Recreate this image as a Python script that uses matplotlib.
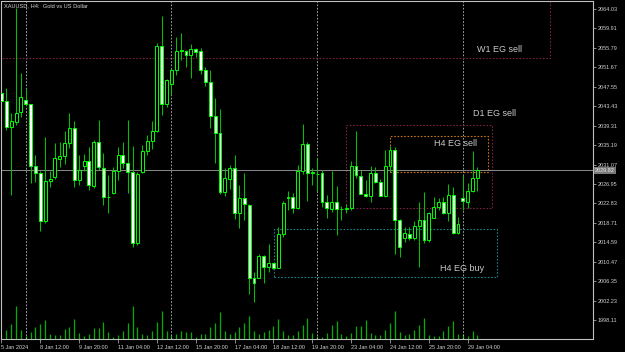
import numpy as np
import matplotlib.pyplot as plt
from matplotlib.patches import Rectangle
from matplotlib import transforms

plt.rcParams['font.family'] = ['Liberation Sans', 'DejaVu Sans']

# XAUUSD H4 bars, 5 Jan 2024 04:00 .. 29 Jan 2024 12:00
opens = [2046.2, 2044.6, 2039.0, 2040.0, 2042.1, 2044.8, 2043.9, 2030.8, 2029.2, 2019.0,
         2027.6, 2028.5, 2032.2, 2032.8, 2035.6, 2038.8, 2027.8, 2030.8, 2031.8, 2026.6,
         2035.8, 2030.4, 2024.1, 2025.1, 2029.8, 2033.0, 2031.4, 2029.4, 2014.4, 2029.4,
         2034.0, 2036.1, 2038.2, 2056.2, 2044.0, 2048.1, 2051.1, 2055.2, 2055.2, 2054.3,
         2055.5, 2055.2, 2051.0, 2048.6, 2041.3, 2037.7, 2025.3, 2027.9, 2030.3, 2020.7,
         2023.9, 2022.5, 2007.1, 2007.1, 2011.7, 2009.3, 2010.1, 2009.2, 2016.3, 2024.0,
         2024.1, 2021.8, 2029.8, 2035.4, 2029.3, 2029.1, 2029.3, 2023.2, 2021.6, 2023.2,
         2021.6, 2021.7, 2021.9, 2030.8, 2028.7, 2024.9, 2024.4, 2029.2, 2027.3, 2024.5,
         2030.7, 2034.1, 2019.3, 2015.6, 2016.3, 2015.6, 2018.0, 2019.4, 2015.1, 2019.8,
         2022.0, 2023.2, 2020.8, 2024.7, 2016.6, 2023.9, 2023.2, 2025.5, 2028.3]
highs = [2046.8, 2047.2, 2042.0, 2064.2, 2050.4, 2047.0, 2043.9, 2033.1, 2029.6, 2037.0,
         2029.8, 2035.7, 2035.9, 2038.2, 2041.9, 2040.2, 2033.1, 2033.3, 2034.8, 2036.3,
         2040.4, 2033.6, 2028.8, 2030.6, 2034.7, 2035.8, 2040.6, 2035.0, 2029.4, 2035.2,
         2037.3, 2040.3, 2056.9, 2062.5, 2049.3, 2051.5, 2058.2, 2058.9, 2055.3, 2056.6,
         2055.8, 2055.7, 2051.8, 2051.1, 2045.1, 2042.8, 2030.3, 2031.0, 2033.1, 2026.7,
         2029.2, 2022.6, 2008.3, 2012.2, 2011.9, 2014.2, 2010.3, 2017.8, 2023.3, 2025.5,
         2025.1, 2031.0, 2039.6, 2035.8, 2030.3, 2032.4, 2029.9, 2024.6, 2029.6, 2026.6,
         2022.2, 2022.8, 2031.9, 2038.2, 2029.9, 2027.8, 2030.8, 2030.6, 2028.1, 2034.2,
         2035.0, 2034.8, 2019.5, 2017.9, 2017.8, 2019.0, 2023.2, 2025.3, 2021.1, 2024.1,
         2023.9, 2024.1, 2026.9, 2026.2, 2020.0, 2028.8, 2027.1, 2034.0, 2030.5]
lows = [2044.0, 2038.4, 2024.6, 2039.4, 2041.2, 2043.7, 2027.1, 2027.4, 2017.0, 2018.6,
        2026.2, 2028.1, 2030.5, 2031.2, 2034.5, 2026.2, 2026.7, 2029.6, 2025.7, 2026.0,
        2029.9, 2022.5, 2020.7, 2024.9, 2027.8, 2030.3, 2025.1, 2013.5, 2014.0, 2029.2,
        2033.1, 2034.4, 2038.0, 2041.6, 2043.2, 2046.0, 2050.0, 2053.2, 2051.7, 2049.5,
        2053.9, 2050.3, 2047.7, 2038.8, 2031.4, 2024.9, 2024.3, 2025.8, 2019.5, 2017.7,
        2019.3, 2003.6, 2002.0, 2007.0, 2005.9, 2008.3, 2008.9, 2009.1, 2015.8, 2021.4,
        2020.7, 2021.6, 2029.0, 2023.4, 2026.7, 2025.5, 2022.0, 2019.7, 2021.1, 2016.1,
        2019.3, 2020.7, 2021.4, 2028.3, 2024.8, 2024.2, 2023.2, 2027.1, 2024.3, 2024.1,
        2029.6, 2012.1, 2011.4, 2014.7, 2015.1, 2015.1, 2009.4, 2014.5, 2014.7, 2019.7,
        2021.4, 2020.5, 2019.0, 2016.3, 2016.3, 2021.5, 2021.8, 2025.3, 2025.5]
closes = [2044.5, 2039.0, 2040.3, 2042.0, 2045.4, 2043.9, 2030.8, 2029.2, 2019.0, 2027.6,
          2028.1, 2032.4, 2032.9, 2035.6, 2038.8, 2027.8, 2029.9, 2031.8, 2026.7, 2035.8,
          2030.5, 2024.1, 2024.2, 2029.8, 2033.1, 2031.3, 2029.4, 2014.4, 2029.0, 2034.0,
          2036.1, 2038.2, 2056.2, 2044.0, 2049.0, 2051.1, 2055.2, 2055.3, 2054.3, 2055.5,
          2055.0, 2051.0, 2048.6, 2041.3, 2037.7, 2025.3, 2028.3, 2030.3, 2020.7, 2023.9,
          2022.6, 2007.1, 2006.0, 2011.7, 2009.3, 2010.1, 2009.2, 2016.3, 2023.0, 2024.1,
          2021.8, 2029.8, 2035.4, 2029.2, 2029.4, 2029.0, 2023.2, 2021.8, 2023.2, 2021.6,
          2021.7, 2021.9, 2030.8, 2028.8, 2024.9, 2024.4, 2029.2, 2027.4, 2024.5, 2030.7,
          2034.1, 2019.3, 2013.6, 2016.5, 2015.6, 2018.0, 2019.4, 2015.1, 2020.7, 2022.0,
          2023.2, 2020.8, 2024.7, 2016.6, 2018.5, 2023.4, 2025.5, 2028.3, 2029.82]
volumes = [4000, 9300, 15300, 32700, 9300, 3000, 6700, 12000, 15000, 19300,
           5300, 3700, 4300, 10300, 12300, 20300, 6300, 3300, 4700, 11300,
           11300, 17300, 7300, 2300, 4300, 8300, 16000, 33300, 11700, 4700,
           4300, 8300, 17300, 28300, 8000, 4000, 5300, 8300, 7000, 7000,
           2000, 4800, 5500, 12000, 16000, 27000, 8000, 5000, 7300, 12300,
           16000, 23300, 8000, 5000, 6700, 9000, 13300, 20300, 7700, 3700,
           4300, 8300, 14300, 20700, 6000, 3000, 2000, 6000, 13700, 18300,
           5300, 2700, 6300, 13300, 13300, 19000, 6000, 3700, 4000, 9300,
           16000, 28000, 7000, 4000, 4800, 9300, 14300, 21000, 4300, 3300,
           3000, 7700, 13000, 18300, 5000, 4700, 3300, 8000, 4300]

time_labels = ["5 Jan 2024", "8 Jan 12:00", "9 Jan 20:00", "11 Jan 04:00", "12 Jan 12:00",
               "15 Jan 20:00", "17 Jan 04:00", "18 Jan 12:00", "19 Jan 20:00", "23 Jan 04:00",
               "24 Jan 12:00", "25 Jan 20:00", "29 Jan 04:00"]
price_ticks = [2064.03, 2059.91, 2055.79, 2051.67, 2047.55, 2043.43, 2039.31, 2035.19,
               2031.07, 2026.95, 2022.83, 2018.71, 2014.59, 2010.47, 2006.35, 2002.23, 1998.11]
last_price = 2029.82
week_starts = [5, 35, 65, 95]

# supply / demand zones (bar index, price)
zone_names = ["W1 EG sell", "D1 EG sell", "H4 EG sell", "H4 EG buy"]
zone_left = [-10, 70.9, 80.0, 56.1]
zone_right = [113.0, 101.1, 100.1, 102.1]
zone_top = [2070.0, 2039.45, 2037.1, 2017.4]
zone_bottom = [2053.65, 2021.86, 2029.5, 2007.2]
label_x = [102.6, 101.6, 93.4, 94.9]
label_y = [2055.45, 2041.8, 2035.6, 2009.1]
zone_colors = ['#7a1f45', '#7a1f45', '#c87414', '#1f7f80']

fig = plt.figure(figsize=(6.25, 3.52), dpi=100, facecolor='black')
rect = [1.5 / 625, 13 / 352, 591.5 / 625, 337.5 / 352]

axv = fig.add_axes(rect, zorder=0)
axv.set_facecolor('black')
axv.axis('off')
ax = fig.add_axes(rect, zorder=1)
ax.set_facecolor('none')

n = len(opens)
idx = np.arange(n)
o = np.array(opens)
c = np.array(closes)

xlim = (0, 121.8)
axv.set_xlim(xlim)
axv.set_ylim(0, max(volumes) * 337.5 / 33.3)
axv.vlines(idx, 0, volumes, color='#00b000', lw=0.9)

ax.set_xlim(xlim)
ax.set_ylim(1994.09, 2065.62)

for i in week_starts:
    ax.axvline(i, color='#c0c0c0', lw=0.6, ls=(0, (2, 2)), zorder=1)

for l, r, t, b, col in zip(zone_left, zone_right, zone_top, zone_bottom, zone_colors):
    ax.add_patch(Rectangle((l, b), r - l, t - b, fill=False, ec=col, lw=0.8,
                           ls=(0, (1.5, 1.5)), zorder=1))
for name, tx, ty in zip(zone_names, label_x, label_y):
    ax.text(tx, ty, name, color='#c8c8c8', fontsize=6.5, ha='center', va='center', zorder=5)

ax.axhline(last_price, color='#8a8a8a', lw=0.7, zorder=1.5)

ax.vlines(idx, lows, highs, color='#00c000', lw=0.75, zorder=2)
bottoms = np.minimum(o, c)
heights = np.maximum(np.abs(c - o), 0.05)
fills = ['black' if cc >= oo else 'white' for oo, cc in zip(o, c)]
ax.bar(idx, heights, bottom=bottoms, width=0.6, color=fills, edgecolor='#00ff00',
       linewidth=0.7, zorder=3)

for s in ax.spines.values():
    s.set_color('#c0c0c0')
    s.set_linewidth(0.8)

ax.yaxis.tick_right()
ax.set_yticks(price_ticks)
ax.set_yticklabels([f"{v:.2f}" for v in price_ticks])
ax.tick_params(axis='y', colors='#c0c0c0', labelcolor='#d0d0d0', labelsize=4,
               length=2, width=0.5, pad=1.5)
ax.set_xticks(np.arange(0, 8 * len(time_labels), 8))
ax.set_xticklabels(time_labels, ha='left')
ax.tick_params(axis='x', colors='#c0c0c0', labelcolor='#d0d0d0', labelsize=4,
               length=3, width=0.5, pad=1.5)

trans = transforms.blended_transform_factory(ax.transAxes, ax.transData)
ax.text(1.003, last_price, f"{last_price:.2f}", transform=trans, fontsize=4,
        color='#e8e8e8', ha='left', va='center', clip_on=False, zorder=6,
        bbox=dict(boxstyle='square,pad=0.2', fc='#7a7a7a', ec='none'))

fig.text(4 / 625, 1 - 6 / 352, "XAUUSD, H4:  Gold vs US Dollar", fontsize=4.1,
         color='#d8d8d8', ha='left', va='center')

fig.savefig('out.png', dpi=100, facecolor='black')
